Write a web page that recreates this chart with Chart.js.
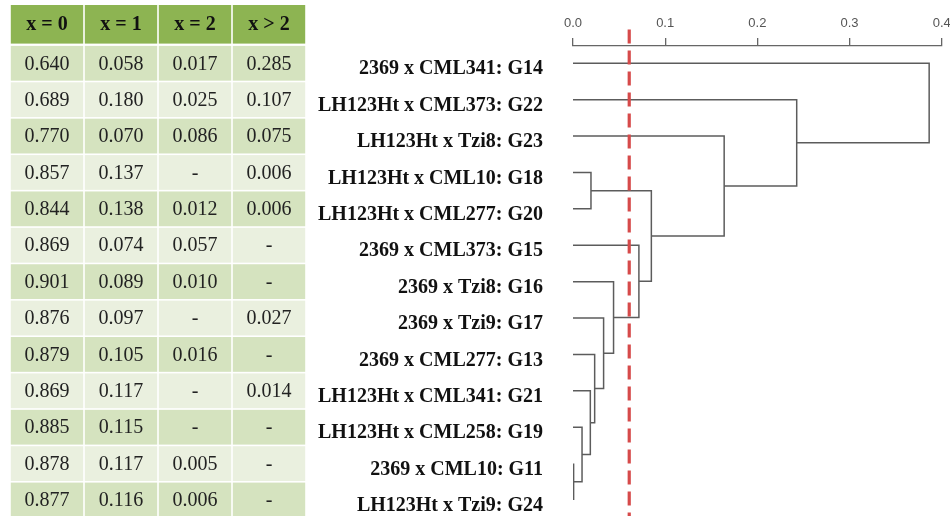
<!DOCTYPE html>
<html>
<head>
<meta charset="utf-8">
<title>Hybrid genotype frequencies and clustering</title>
<script src="https://cdn.jsdelivr.net/npm/chart.js@4.4.1/dist/chart.umd.min.js"></script>
<style>
  html, body { margin: 0; padding: 0; background: #ffffff; }
  #wrap { width: 950px; height: 516px; position: relative; }
  canvas { display: block; }
</style>
</head>
<body>
<div id="wrap"><canvas id="chart" width="950" height="516"></canvas></div>
<script>
// Crosses, listed in dendrogram leaf order (top to bottom)
const leafLabels = [
  '2369 x CML341: G14',
  'LH123Ht x CML373: G22',
  'LH123Ht x Tzi8: G23',
  'LH123Ht x CML10: G18',
  'LH123Ht x CML277: G20',
  '2369 x CML373: G15',
  '2369 x Tzi8: G16',
  '2369 x Tzi9: G17',
  '2369 x CML277: G13',
  'LH123Ht x CML341: G21',
  'LH123Ht x CML258: G19',
  '2369 x CML10: G11',
  'LH123Ht x Tzi9: G24'
];

// Frequency table columns (null = not observed, shown as "-")
const colHeaders = ['x = 0', 'x = 1', 'x = 2', 'x > 2'];
const freqX0 = [0.640, 0.689, 0.770, 0.857, 0.844, 0.869, 0.901, 0.876, 0.879, 0.869, 0.885, 0.878, 0.877];
const freqX1 = [0.058, 0.180, 0.070, 0.137, 0.138, 0.074, 0.089, 0.097, 0.105, 0.117, 0.115, 0.117, 0.116];
const freqX2 = [0.017, 0.025, 0.086, null, 0.012, 0.057, 0.010, null, 0.016, null, null, 0.005, 0.006];
const freqX3 = [0.285, 0.107, 0.075, 0.006, 0.006, null, null, 0.027, null, 0.014, null, null, null];

// Hierarchical clustering merges (hclust style: negative = leaf -(index+1), positive = earlier merge number)
const mergeLeft   = [-12, -11, -10, -9, -8, -7, -6, -4, 8, -3, -2, -1];
const mergeRight  = [-13,   1,   2,  3,  4,  5,  6, -5, 7,  9, 10, 11];
const mergeHeight = [0.001, 0.0098, 0.0188, 0.0235, 0.0332, 0.044, 0.0715, 0.0195, 0.085, 0.164, 0.2427, 0.3864];

// Distance axis ticks and the cut height
const distanceTicks = [0.0, 0.1, 0.2, 0.3, 0.4];
const cutHeight = 0.061;

// Build the dendrogram branches as polylines (child -> up to merge height -> other child)
const nodePos = [];
const nodeHeight = [];
function childInfo(ref) {
  if (ref < 0) return { pos: -ref - 1, h: 0 };
  return { pos: nodePos[ref - 1], h: nodeHeight[ref - 1] };
}
const branchSets = mergeHeight.map((h, k) => {
  const a = childInfo(mergeLeft[k]);
  const b = childInfo(mergeRight[k]);
  nodePos[k] = (a.pos + b.pos) / 2;
  nodeHeight[k] = h;
  return {
    data: [{ x: a.h, y: a.pos }, { x: h, y: a.pos }, { x: h, y: b.pos }, { x: b.h, y: b.pos }],
    showLine: true,
    borderColor: '#5c5c5c',
    borderWidth: 1.5,
    pointRadius: 0,
    fill: false,
    tension: 0
  };
});

const tableCols = [freqX0, freqX1, freqX2, freqX3];

// Frequency table drawn beside the leaf labels, rows aligned with the leaf positions
const tablePlugin = {
  id: 'freqTable',
  beforeDatasetsDraw(chart) {
    const ctx = chart.ctx;
    const ys = chart.scales.y;
    const left = 10, colW = 74, gap = 0.8;
    ctx.save();
    // header row
    const headTop = 5;
    const headBottom = ys.getPixelForValue(-0.5) - 1.5;
    colHeaders.forEach((t, c) => {
      const x0 = left + c * colW;
      ctx.fillStyle = '#8db452';
      ctx.fillRect(x0 + gap, headTop, colW - 2 * gap, headBottom - headTop);
      ctx.fillStyle = '#111111';
      ctx.font = 'bold 20px "Liberation Serif", "Times New Roman", serif';
      ctx.textAlign = 'center';
      ctx.textBaseline = 'middle';
      ctx.fillText(t, x0 + colW / 2, (headTop + headBottom) / 2 + 1);
    });
    // body rows
    leafLabels.forEach((_, r) => {
      const top = ys.getPixelForValue(r - 0.5);
      const bottom = ys.getPixelForValue(r + 0.5);
      const mid = ys.getPixelForValue(r);
      tableCols.forEach((col, c) => {
        const x0 = left + c * colW;
        ctx.fillStyle = r % 2 === 0 ? '#d5e3bf' : '#eaf0df';
        ctx.fillRect(x0 + gap, top + gap, colW - 2 * gap, bottom - top - 2 * gap);
        const v = col[r];
        ctx.fillStyle = '#222222';
        ctx.font = '20px "Liberation Serif", "Times New Roman", serif';
        ctx.textAlign = 'center';
        ctx.textBaseline = 'middle';
        ctx.fillText(v === null ? '-' : v.toFixed(3), x0 + colW / 2, mid + 1);
      });
    });
    ctx.restore();
  }
};

// Dashed cut line across the dendrogram
const cutLinePlugin = {
  id: 'cutLine',
  afterDatasetsDraw(chart) {
    const ctx = chart.ctx;
    const xs = chart.scales.x;
    const area = chart.chartArea;
    const px = xs.getPixelForValue(cutHeight);
    ctx.save();
    ctx.strokeStyle = '#d64a4a';
    ctx.lineWidth = 3.2;
    ctx.setLineDash([14, 7]);
    ctx.beginPath();
    ctx.moveTo(px, area.top - 16.5);
    ctx.lineTo(px, area.bottom);
    ctx.stroke();
    ctx.restore();
  }
};

new Chart(document.getElementById('chart'), {
  type: 'scatter',
  data: { datasets: branchSets },
  plugins: [tablePlugin, cutLinePlugin],
  options: {
    responsive: false,
    animation: false,
    events: [],
    layout: { padding: { left: 0, right: 8.3, top: 0, bottom: 0 } },
    plugins: { legend: { display: false }, tooltip: { enabled: false } },
    scales: {
      x: {
        type: 'linear',
        position: 'top',
        min: 0,
        max: 0.4,
        afterBuildTicks: s => { s.ticks = distanceTicks.map(v => ({ value: v })); },
        afterFit: s => { s.height = 46; s.paddingLeft = 0; s.paddingRight = 0; },
        ticks: {
          callback: v => Number(v).toFixed(1),
          font: { family: '"Liberation Sans", Arial, sans-serif', size: 13 },
          color: '#555555',
          padding: 7,
          maxRotation: 0
        },
        grid: { drawOnChartArea: false, drawTicks: true, tickLength: 8, color: '#666666', lineWidth: 1.3 },
        border: { display: true, color: '#666666', width: 1.3 }
      },
      y: {
        type: 'linear',
        position: 'left',
        reverse: true,
        min: -0.475,
        max: 12.44,
        afterBuildTicks: s => { s.ticks = leafLabels.map((_, i) => ({ value: i })); },
        afterFit: s => { s.width = 573; s.paddingTop = 0; s.paddingBottom = 0; },
        ticks: {
          callback: v => leafLabels[Math.round(v)],
          font: { family: '"Liberation Serif", "Times New Roman", serif', size: 20, weight: 'bold' },
          color: '#111111',
          padding: 30,
          labelOffset: 6,
          autoSkip: false
        },
        grid: { display: false, drawTicks: false },
        border: { display: false }
      }
    }
  }
});
</script>
</body>
</html>
